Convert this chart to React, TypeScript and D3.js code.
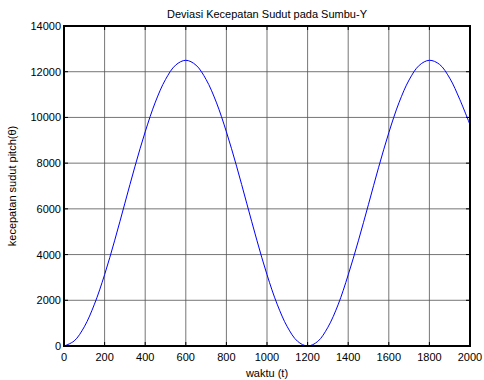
import React from "react";
import * as d3 from "d3";

const title = "Deviasi Kecepatan Sudut pada Sumbu-Y";
const xLabel = "waktu (t)";
const yLabel = "kecepatan sudut pitch(θ)";

const xTicks = [0, 200, 400, 600, 800, 1000, 1200, 1400, 1600, 1800, 2000];
const yTicks = [0, 2000, 4000, 6000, 8000, 10000, 12000, 14000];

const timeValues = [
  0, 50, 100, 150, 200, 250, 300, 350, 400, 450, 500, 550, 600, 650, 700, 750,
  800, 850, 900, 950, 1000, 1050, 1100, 1150, 1200, 1250, 1300, 1350, 1400,
  1450, 1500, 1550, 1600, 1650, 1700, 1750, 1800, 1850, 1900, 1950, 2000,
];
const speedValues = [
  0, 220, 840, 1830, 3120, 4630, 6250, 7870, 9370, 10670, 11660, 12290, 12500,
  12290, 11660, 10670, 9370, 7870, 6250, 4630, 3120, 1830, 840, 210, 0, 200,
  820, 1800, 3110, 4600, 6200, 7820, 9330, 10640, 11640, 12280, 12500, 12320,
  11720, 10780, 9680,
];

const W = 484;
const H = 380;
const M = { left: 64, right: 470, top: 26, bottom: 346 };

export default function App() {
  const x = d3.scaleLinear().domain([0, 2000]).range([M.left, M.right]);
  const y = d3.scaleLinear().domain([0, 14000]).range([M.bottom, M.top]);
  const pts = timeValues.map((t, i) => [t, speedValues[i]] as [number, number]);
  const line = d3
    .line<[number, number]>()
    .x((d) => x(d[0]))
    .y((d) => y(d[1]))
    .curve(d3.curveCatmullRom.alpha(0.5));
  const font = "'Liberation Sans', Arial, sans-serif";
  return (
    <svg
      width={W}
      height={H}
      style={{ position: "absolute", left: 0, top: 0, background: "#fff" }}
      fontFamily={font}
    >
      <rect x={0} y={0} width={W} height={H} fill="#fff" />
      {/* grid */}
      {xTicks.map((t) => (
        <line
          key={"gx" + t}
          x1={x(t)}
          x2={x(t)}
          y1={M.top}
          y2={M.bottom}
          stroke="#555"
          strokeWidth={1}
          opacity={0.8}
        />
      ))}
      {yTicks.map((t) => (
        <line
          key={"gy" + t}
          x1={M.left}
          x2={M.right}
          y1={y(t)}
          y2={y(t)}
          stroke="#555"
          strokeWidth={1}
          opacity={0.8}
        />
      ))}
      {/* ticks */}
      {xTicks.map((t) => (
        <g key={"tx" + t}>
          <line x1={x(t)} x2={x(t)} y1={M.bottom} y2={M.bottom - 4} stroke="#000" />
          <line x1={x(t)} x2={x(t)} y1={M.top} y2={M.top + 4} stroke="#000" />
          <text x={x(t)} y={M.bottom + 15} fontSize={11} textAnchor="middle" fill="#000">
            {t}
          </text>
        </g>
      ))}
      {yTicks.map((t) => (
        <g key={"ty" + t}>
          <line x1={M.left} x2={M.left + 4} y1={y(t)} y2={y(t)} stroke="#000" />
          <line x1={M.right} x2={M.right - 4} y1={y(t)} y2={y(t)} stroke="#000" />
          <text x={M.left - 3} y={y(t) + 4} fontSize={11} textAnchor="end" fill="#000">
            {t}
          </text>
        </g>
      ))}
      <path d={line(pts) || ""} fill="none" stroke="#0000ff" strokeWidth={1} />
      <rect
        x={M.left}
        y={M.top}
        width={M.right - M.left}
        height={M.bottom - M.top}
        fill="none"
        stroke="#000"
        strokeWidth={2}
      />
      <text x={(M.left + M.right) / 2} y={18} fontSize={11} textAnchor="middle" fill="#000">
        {title}
      </text>
      <text x={(M.left + M.right) / 2} y={377} fontSize={11} textAnchor="middle" fill="#000">
        {xLabel}
      </text>
      <text
        transform={`translate(16,${(M.top + M.bottom) / 2}) rotate(-90)`}
        fontSize={11}
        textAnchor="middle"
        fill="#000"
      >
        {yLabel}
      </text>
    </svg>
  );
}
